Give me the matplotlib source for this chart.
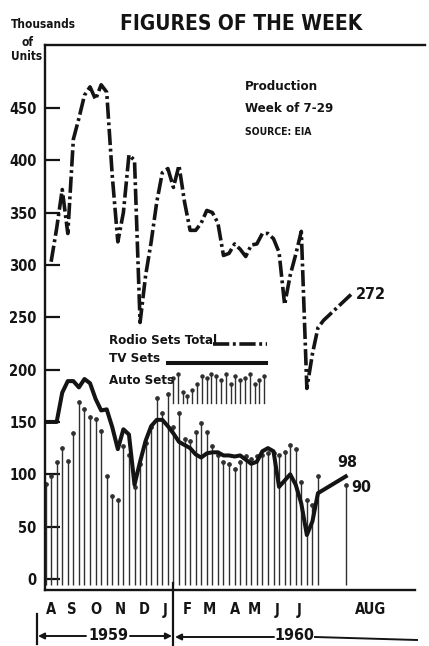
# Figures of the week - radio / TV / auto set production
import matplotlib
matplotlib.use('Agg')
import matplotlib.pyplot as plt
from matplotlib.lines import Line2D
from matplotlib.patches import FancyArrowPatch

plt.rcParams['font.family'] = ['Liberation Sans Narrow', 'DejaVu Sans']
plt.rcParams['font.stretch'] = 'condensed'
plt.rcParams['font.weight'] = 'bold'

W, H = 429, 646

# weekly data, thousands of units (week 0 = early Aug 1959)
auto_weeks = list(range(50)) + [54]
auto_sets = [91, 98, 112, 125, 113, 139, 169, 162, 155, 153,
             141, 98, 79, 75, 127, 118, 88, 110, 130, 145,
             173, 159, 177, 145, 159, 134, 132, 140, 149, 140,
             127, 118, 112, 110, 105, 112, 117, 115, 117, 118,
             120, 120, 118, 121, 128, 124, 93, 75, 71, 98, 90]

tv_weeks = list(range(50)) + [54]
tv_sets = [150, 150, 150, 178, 189, 189, 183, 191, 187, 172,
           161, 162, 145, 124, 143, 138, 90, 112, 132, 146,
           152, 152, 146, 139, 131, 128, 125, 119, 116, 120,
           121, 121, 118, 118, 117, 118, 114, 110, 112, 122,
           125, 122, 88, 94, 100, 90, 72, 42, 55, 82, 98]

radio_weeks = list(range(1, 51)) + [55]
radio_sets = [303, 335, 372, 330, 420, 440, 462, 470, 458,
              472, 465, 385, 322, 350, 405, 400, 245, 290, 322,
              360, 388, 392, 374, 395, 360, 333, 333, 340, 352,
              350, 340, 309, 311, 320, 315, 308, 319, 320, 330,
              330, 325, 312, 262, 290, 310, 332, 182, 215, 240,
              247, 272]

month_labels = ['A', 'S', 'O', 'N', 'D', 'J', 'F', 'M', 'A', 'M', 'J', 'J', 'AUG']
month_pos = [1.0, 4.8, 9.1, 13.4, 17.8, 21.5, 25.4, 29.4, 34.1, 37.5, 41.7, 45.6, 58.4]

# small pins used as the legend key for auto sets (pixel tops)
legend_pins = [378, 374, 392, 396, 390, 384, 376, 378, 374, 376,
               380, 374, 384, 376, 380, 378, 374, 384, 380, 376]

INK = '#141414'
DASH = (4.5, 1.0, 0.8, 1.0)


def fx(x):
    return x / W


def fy(y):
    return 1 - y / H


fig = plt.figure(figsize=(W / 100, H / 100), dpi=100)
ax = fig.add_axes([fx(45), fy(590), (425 - 45) / W, (590 - 45) / H])
ax.set_xlim(-0.1, 68.25)
ax.set_ylim(-10.5, 510)

# auto sets: thin pins with a dot on top
ax.vlines(auto_weeks, -6, auto_sets, color='#303030', lw=1.0, zorder=2)
ax.plot(auto_weeks, auto_sets, ls='none', marker='o', ms=2.4, color='#303030', zorder=2)

# TV sets
ax.plot(tv_weeks, tv_sets, color=INK, lw=2.9, solid_joinstyle='round', zorder=4)

# radio sets total, dash-dot
ln, = ax.plot(radio_weeks, radio_sets, color=INK, lw=2.6, zorder=4)
ln.set_dashes(DASH)

ax.annotate(str(radio_sets[-1]), (radio_weeks[-1], radio_sets[-1]),
            xytext=(3, 0), textcoords='offset points', fontsize=11.5,
            va='center', ha='left', color=INK)
ax.annotate(str(tv_sets[-1]), (tv_weeks[-1], tv_sets[-1]),
            xytext=(-6, 10), textcoords='offset points', fontsize=11.5,
            va='center', ha='left', color=INK)
ax.annotate(str(auto_sets[-1]), (auto_weeks[-1], auto_sets[-1]),
            xytext=(4, -2), textcoords='offset points', fontsize=11.5,
            va='center', ha='left', color=INK)

ax.set_yticks(range(0, 451, 50))
ax.tick_params(axis='y', direction='in', length=11, width=1.6, pad=6,
               labelsize=10.5, colors=INK)
ax.set_xticks(month_pos, month_labels)
ax.tick_params(axis='x', length=0, pad=9, labelsize=10.5, colors=INK)

for s in ['left', 'top', 'bottom']:
    ax.spines[s].set_linewidth(1.7)
    ax.spines[s].set_color(INK)
ax.spines['right'].set_visible(False)
ax.spines['bottom'].set_bounds(-0.1, 66.4)

# titles and notes
fig.text(fx(241), fy(24), 'FIGURES OF THE WEEK', fontsize=15, ha='center', va='center', color=INK)
fig.text(fx(43), fy(24), 'Thousands', fontsize=8.5, ha='center', va='center', color=INK)
fig.text(fx(28), fy(42), 'of', fontsize=8.5, ha='center', va='center', color=INK)
fig.text(fx(27), fy(56), 'Units', fontsize=8.5, ha='center', va='center', color=INK)
fig.text(fx(245), fy(87), 'Production', fontsize=9.5, ha='left', va='center', color=INK)
fig.text(fx(245), fy(109), 'Week of 7-29', fontsize=9.5, ha='left', va='center', color=INK)
fig.text(fx(245), fy(132), 'SOURCE: EIA', fontsize=7.5, ha='left', va='center', color=INK)

# legend
fig.text(fx(109), fy(340), 'Rodio Sets Total', fontsize=9.5, ha='left', va='center', color=INK)
fig.text(fx(109), fy(359), 'TV Sets', fontsize=9.5, ha='left', va='center', color=INK)
fig.text(fx(109), fy(381), 'Auto Sets', fontsize=9.5, ha='left', va='center', color=INK)
key = Line2D([fx(213), fx(267)], [fy(344), fy(344)], color=INK, lw=2.6)
key.set_dashes(DASH)
fig.add_artist(key)
fig.add_artist(Line2D([fx(168), fx(266)], [fy(363), fy(363)], color=INK, lw=2.9))
for k, top in enumerate(legend_pins):
    px = 173 + k * 4.8
    fig.add_artist(Line2D([fx(px), fx(px)], [fy(403), fy(top)], color='#303030', lw=1.0))
    fig.add_artist(Line2D([fx(px)], [fy(top)], ls='none', marker='o', ms=2.2, color='#303030'))

# year bracket below the months
fig.add_artist(Line2D([fx(173), fx(173)], [fy(583), fy(646)], color=INK, lw=1.6))
fig.add_artist(Line2D([fx(37), fx(37)], [fy(614), fy(644)], color=INK, lw=1.6))
arrow = dict(arrowstyle='-|>', color=INK, lw=1.4, mutation_scale=9, shrinkA=0, shrinkB=0,
             transform=fig.transFigure)
fig.add_artist(FancyArrowPatch((fx(86), fy(636)), (fx(38), fy(636)), **arrow))
fig.add_artist(FancyArrowPatch((fx(130), fy(636)), (fx(172), fy(636)), **arrow))
fig.add_artist(FancyArrowPatch((fx(274), fy(637)), (fx(175), fy(637)), **arrow))
fig.add_artist(Line2D([fx(315), fx(417)], [fy(637), fy(640)], color=INK, lw=1.4))
fig.text(fx(108), fy(635), '1959', fontsize=11.5, ha='center', va='center', color=INK)
fig.text(fx(294), fy(636), '1960', fontsize=11.5, ha='center', va='center', color=INK)

fig.savefig('out.png', dpi=100)
